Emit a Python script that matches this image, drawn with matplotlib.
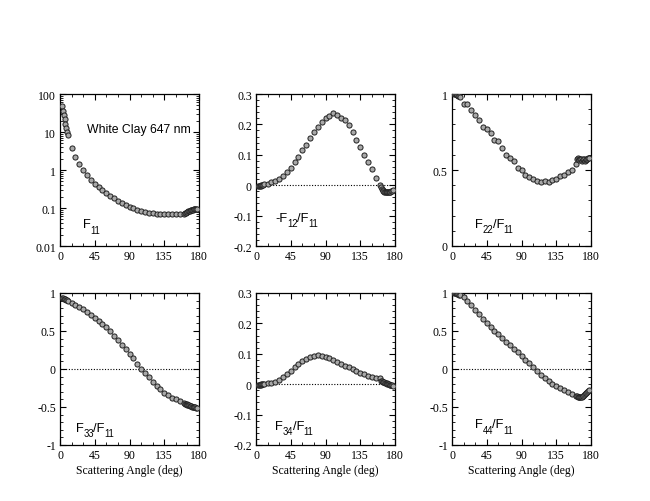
import matplotlib
matplotlib.use("Agg")
import matplotlib.pyplot as plt
from matplotlib.ticker import MultipleLocator, FuncFormatter, LogLocator, NullFormatter

plt.rcParams["font.family"] = "Liberation Serif"
plt.rcParams["axes.unicode_minus"] = False

angles = [3, 4, 5, 6, 7, 8, 9, 10,
          15, 20, 25, 30, 35, 40, 45, 50, 55, 60, 65, 70, 75, 80, 85, 90,
          95, 100, 105, 110, 115, 120, 125, 130, 135, 140, 145, 150, 155, 160,
          162, 163, 164, 165, 166, 167, 168, 169, 170, 171, 172, 173, 174, 175, 176, 177]

f11 = [47, 36, 28, 22, 16.5, 13, 10.3, 8.1,
       3.9, 2.2, 1.45, 1.03, 0.74, 0.56, 0.44, 0.36, 0.30, 0.255, 0.213, 0.182, 0.156, 0.136, 0.120, 0.108,
       0.098, 0.090, 0.084, 0.079, 0.075, 0.072, 0.070, 0.069, 0.068, 0.068, 0.068, 0.068, 0.069, 0.071,
       0.073, 0.075, 0.077, 0.079, 0.081, 0.083, 0.085, 0.087, 0.088, 0.090, 0.091, 0.092, 0.093, 0.094, 0.095, 0.096]

mf12 = [-0.003, -0.003, -0.002, -0.001, 0.0, 0.001, 0.002, 0.003,
        0.005, 0.010, 0.015, 0.022, 0.031, 0.043, 0.058, 0.075, 0.092, 0.115, 0.132, 0.154, 0.176, 0.192, 0.209, 0.220,
        0.228, 0.236, 0.230, 0.220, 0.215, 0.198, 0.176, 0.150, 0.126, 0.100, 0.077, 0.053, 0.023, 0.000,
        -0.005, -0.012, -0.016, -0.019, -0.021, -0.022, -0.023, -0.024, -0.024, -0.024, -0.024, -0.023, -0.022, -0.020, -0.019, -0.017]

f22 = [1.0, 1.0, 1.0, 0.995, 0.995, 0.99, 0.985, 0.98,
       0.934, 0.934, 0.895, 0.862, 0.83, 0.78, 0.77, 0.744, 0.698, 0.69, 0.648, 0.60, 0.578, 0.56, 0.514, 0.497,
       0.464, 0.453, 0.438, 0.425, 0.422, 0.425, 0.418, 0.433, 0.438, 0.46, 0.47, 0.49, 0.503, 0.54,
       0.575, 0.58, 0.57, 0.565, 0.575, 0.57, 0.56, 0.565, 0.57, 0.575, 0.56, 0.565, 0.57, 0.575, 0.58, 0.58]

f33 = [0.93, 0.93, 0.925, 0.92, 0.915, 0.91, 0.905, 0.90,
       0.87, 0.845, 0.815, 0.79, 0.755, 0.715, 0.675, 0.635, 0.59, 0.55, 0.50, 0.44, 0.38, 0.32, 0.26, 0.20,
       0.14, 0.07, 0.005, -0.055, -0.11, -0.17, -0.22, -0.265, -0.31, -0.345, -0.375, -0.40, -0.425, -0.445,
       -0.455, -0.46, -0.465, -0.47, -0.475, -0.48, -0.485, -0.49, -0.49, -0.495, -0.5, -0.5, -0.505, -0.505, -0.51, -0.51]

f34 = [-0.002, -0.002, -0.001, -0.001, 0.0, 0.0, 0.001, 0.001,
       0.003, 0.003, 0.006, 0.013, 0.023, 0.034, 0.045, 0.056, 0.065, 0.075, 0.083, 0.089, 0.093, 0.097, 0.093, 0.090,
       0.085, 0.079, 0.073, 0.067, 0.061, 0.055, 0.049, 0.042, 0.036, 0.032, 0.028, 0.023, 0.021, 0.020,
       0.010, 0.009, 0.008, 0.007, 0.006, 0.005, 0.004, 0.003, 0.002, 0.001, 0.0, -0.001, -0.002, -0.003, -0.004, -0.005]

f44 = [1.0, 1.0, 1.0, 0.995, 0.99, 0.985, 0.98, 0.97,
       0.947, 0.89, 0.845, 0.77, 0.72, 0.656, 0.60, 0.554, 0.505, 0.457, 0.413, 0.36, 0.316, 0.263, 0.219, 0.17,
       0.117, 0.073, 0.024, -0.024, -0.077, -0.117, -0.157, -0.196, -0.223, -0.25, -0.272, -0.302, -0.333, -0.355,
       -0.36, -0.365, -0.37, -0.37, -0.37, -0.368, -0.365, -0.36, -0.35, -0.34, -0.33, -0.32, -0.31, -0.30, -0.29, -0.28]

# label pieces: (text, is_subscript)
panels = [
    (f11, [("F", 0), ("11", 1)], (0.163, 0.123), None),
    (mf12, [("-F", 0), ("12", 1), ("/F", 0), ("11", 1)], (0.139, 0.167), (-0.2, 0.3, 0.1, 0.02)),
    (f22, [("F", 0), ("22", 1), ("/F", 0), ("11", 1)], (0.167, 0.127), (0.0, 1.0, 0.5, 0.1)),
    (f33, [("F", 0), ("33", 1), ("/F", 0), ("11", 1)], (0.115, 0.095), (-1.0, 1.0, 0.5, 0.1)),
    (f34, [("F", 0), ("34", 1), ("/F", 0), ("11", 1)], (0.139, 0.106), (-0.2, 0.3, 0.1, 0.02)),
    (f44, [("F", 0), ("44", 1), ("/F", 0), ("11", 1)], (0.167, 0.117), (-1.0, 1.0, 0.5, 0.1)),
]

fig = plt.figure(figsize=(6.5, 5.02), dpi=100)
renderer = fig.canvas.get_renderer()
lefts = [60 / 650, 256 / 650, 452 / 650]
bottoms = [1 - 247 / 502, 1 - 446 / 502]
w, h = 139 / 650, 152 / 502

fmt = FuncFormatter(lambda v, p: "%g" % round(v, 6))


def sub_label(ax, x, y, parts, size=9.3):
    off = 0.0
    for s, sub in parts:
        t = ax.annotate(s, (x, y), xycoords="axes fraction", xytext=(off, -4.0 if sub else 0),
                        textcoords="offset points", fontsize=size * 0.74 if sub else size,
                        family="Liberation Sans", va="baseline")
        off += t.get_window_extent(renderer).width * 72 / fig.dpi - 0.35


for i, (vals, label, pos, ylim) in enumerate(panels):
    row, col = divmod(i, 3)
    ax = fig.add_axes([lefts[col], bottoms[row], w, h])
    ax.plot(angles, vals, "o", ms=3.7, mfc="#a8a8a8", mec="#202020", mew=0.7, zorder=3)
    ax.set_xlim(0, 180)
    ax.xaxis.set_major_locator(MultipleLocator(45))
    ax.xaxis.set_minor_locator(MultipleLocator(15))
    if ylim is None:
        ax.set_yscale("log")
        ax.set_ylim(0.01, 100)
        ax.yaxis.set_major_locator(LogLocator(base=10, numticks=10))
        ax.yaxis.set_minor_locator(LogLocator(base=10, subs=range(2, 10), numticks=20))
        ax.yaxis.set_minor_formatter(NullFormatter())
        ax.text(0.194, 0.748, "White Clay 647 nm", transform=ax.transAxes,
                fontsize=8.8, family="Liberation Sans")
    else:
        lo, hi, major, minor = ylim
        ax.set_ylim(lo, hi)
        ax.yaxis.set_major_locator(MultipleLocator(major))
        ax.yaxis.set_minor_locator(MultipleLocator(minor))
        if i != 2:
            ax.axhline(0, color="black", lw=0.8, ls=(0, (1, 1.5)), zorder=2)
    ax.yaxis.set_major_formatter(fmt)
    ax.xaxis.set_major_formatter(fmt)
    ax.tick_params(which="both", direction="in", top=True, right=True, labelsize=8.5, pad=3)
    ax.tick_params(which="major", length=4, width=0.8)
    ax.tick_params(which="minor", length=2, width=0.6)
    for s in ax.spines.values():
        s.set_linewidth(0.9)
    sub_label(ax, pos[0], pos[1], label)
    if row == 1:
        ax.set_xlabel("Scattering Angle (deg)", fontsize=8.5, labelpad=2)

fig.savefig("out.png", dpi=100)
